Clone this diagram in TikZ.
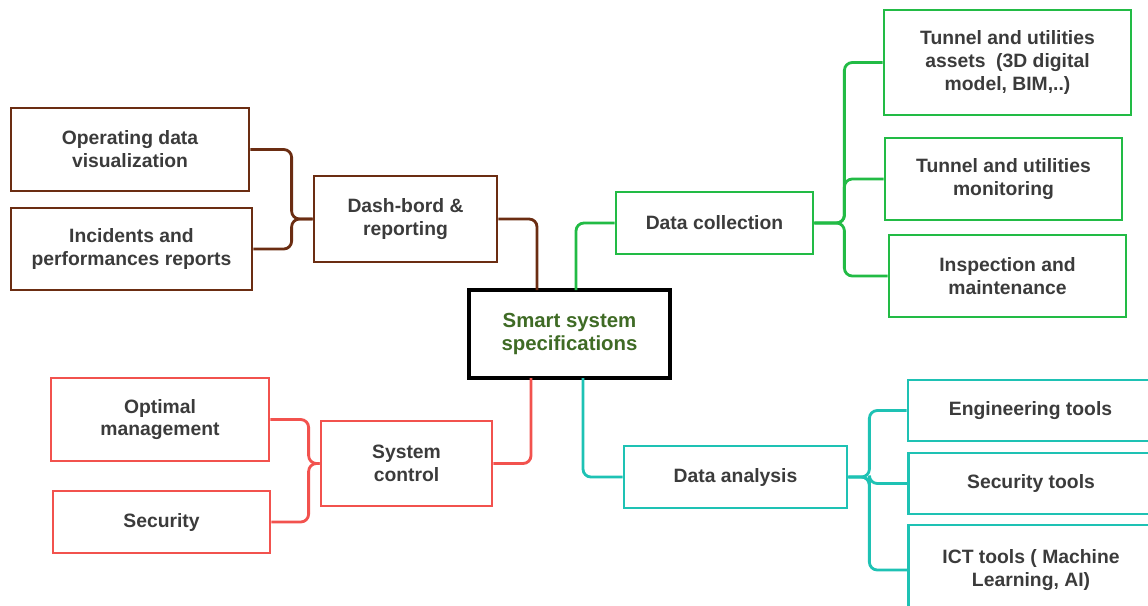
\documentclass[tikz,border=0pt]{standalone}
\usepackage{fontspec}
\setmainfont{Liberation Sans}
\usepackage{tikz}
\definecolor{brn}{HTML}{6B2D12}
\definecolor{grn}{HTML}{22BB45}
\definecolor{rd}{HTML}{F2524E}
\definecolor{tl}{HTML}{1EC2B4}
\definecolor{txtgray}{HTML}{3B3B3B}
\definecolor{ctrtxt}{HTML}{3F6B25}
\tikzstyle{box}=[draw, line width=1.6pt, align=center, inner sep=2pt, text=txtgray, font=\bfseries\fontsize{11}{13}\selectfont]
\tikzstyle{link}=[line width=1.6pt, rounded corners=4.5pt]

\begin{document}
\begin{tikzpicture}[x=0.02cm, y=-0.02cm]
    \useasboundingbox (0,0) rectangle (1148,605);

    % centre
    \node[box, draw=black, line width=2.2pt, text=ctrtxt, font=\bfseries\fontsize{11.6}{13.6}\selectfont, minimum width=4.02cm, minimum height=1.76cm] (spec) at (569.5,334) {Smart system\\specifications};
    \coordinate (ctopa) at (537,290);
    \coordinate (ctopb) at (576,290);
    \coordinate (cbota) at (531,378);
    \coordinate (cbotb) at (583,378);

    % dash-board branch
    \node[box, draw=brn, minimum width=3.66cm, minimum height=1.72cm] (dash) at (405.5,219) {Dash-bord \&\\reporting};
    \node[box, draw=brn, minimum width=4.76cm, minimum height=1.66cm] (opviz) at (130,149.5) {Operating data\\visualization};
    \node[box, draw=brn, minimum width=4.82cm, minimum height=1.64cm] (incid) at (131.5,249) {Incidents and\\performances reports};
    \draw[link, brn] (dash.east) -| (ctopa);
    \draw[link, brn] (dash.west) -- ++(-21,0) |- (opviz.east);
    \draw[link, brn] (dash.west) -- ++(-21,0) |- (incid.east);

    % data collection branch
    \node[box, draw=grn, minimum width=3.94cm, minimum height=1.24cm] (coll) at (714.5,223) {Data collection};
    \node[box, draw=grn, minimum width=4.94cm, minimum height=2.1cm] (assets) at (1007.5,62.5) {Tunnel and utilities\\assets\ \ (3D digital\\model, BIM,..)};
    \node[box, draw=grn, minimum width=4.74cm, minimum height=1.64cm] (monit) at (1003.5,179) {Tunnel and utilities\\monitoring};
    \node[box, draw=grn, minimum width=4.74cm, minimum height=1.64cm] (insp) at (1007.5,276) {Inspection and\\maintenance};
    \draw[link, grn] (ctopb) |- (coll.west);
    \draw[link, grn] (coll.east) -- ++(30,0) |- (assets.west);
    \draw[link, grn] (coll.east) -- ++(30,0) |- (monit.west);
    \draw[link, grn] (coll.east) -- ++(30,0) |- (insp.west);

    % system control branch
    \node[box, draw=rd, minimum width=3.42cm, minimum height=1.7cm] (ctrl) at (406.5,463.5) {System\\control};
    \node[box, draw=rd, minimum width=4.36cm, minimum height=1.66cm] (optim) at (160,419.5) {Optimal\\management};
    \node[box, draw=rd, minimum width=4.34cm, minimum height=1.24cm] (secur) at (161.5,522) {Security};
    \draw[link, rd] (cbota) |- (ctrl.east);
    \draw[link, rd] (ctrl.west) -- ++(-11,0) |- (optim.east);
    \draw[link, rd] (ctrl.west) -- ++(-11,0) |- (secur.east);

    % data analysis branch
    \node[box, draw=tl, minimum width=4.46cm, minimum height=1.24cm] (anal) at (735.5,477) {Data analysis};
    \node[box, draw=tl, minimum width=4.9cm, minimum height=1.22cm] (eng) at (1030.5,410.5) {Engineering tools};
    \node[box, draw=tl, minimum width=4.9cm, minimum height=1.22cm] (sect) at (1031,483.5) {Security tools};
    \node[box, draw=tl, minimum width=4.9cm, minimum height=1.8cm] (ict) at (1031,570) {ICT tools ( Machine\\Learning, AI)};
    \draw[link, tl] (cbotb) |- (anal.west);
    \draw[link, tl] (anal.east) -- ++(21,0) |- (eng.west);
    \draw[link, tl] (anal.east) -- ++(21,0) |- (sect.west);
    \draw[link, tl] (anal.east) -- ++(21,0) |- (ict.west);

  \end{tikzpicture}
\end{document}
